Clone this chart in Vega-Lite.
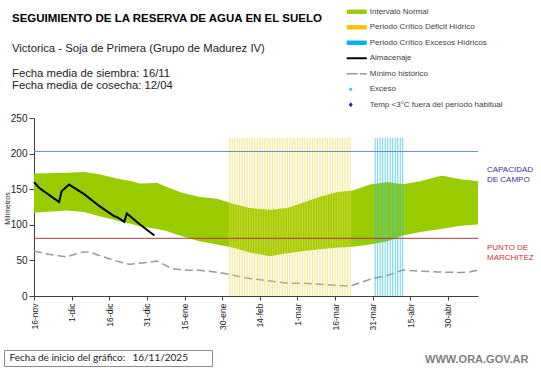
{
  "$schema": "https://vega.github.io/schema/vega-lite/v6.json",
  "width": 444,
  "height": 178,
  "autosize": {"type": "none"},
  "padding": {"left": 34, "top": 118, "right": 63, "bottom": 72},
  "background": "white",
  "config": {"view": {"stroke": null}, "font": "Liberation Sans"},
  "title": {
    "text": "SEGUIMIENTO DE LA RESERVA DE AGUA  EN EL SUELO",
    "subtitle": ["Victorica - Soja de Primera (Grupo de Madurez IV)", "\u200b", "Fecha media de siembra: 16/11", "Fecha media de cosecha: 12/04"],
    "anchor": "start",
    "frame": "group",
    "font": "Liberation Sans",
    "fontSize": 11.5,
    "fontWeight": "bold",
    "color": "#000000",
    "subtitleFont": "Liberation Sans",
    "subtitleFontSize": 11.3,
    "subtitleColor": "#222222",
    "subtitlePadding": 18,
    "subtitleLineHeight": 12.6,
    "dx": -22,
    "offset": -84
  },
  "datasets": {
    "banda": [
      {"fecha": "2025-11-16", "min": 117, "max": 172},
      {"fecha": "2025-11-29", "min": 120, "max": 173},
      {"fecha": "2025-12-06", "min": 118, "max": 174},
      {"fecha": "2025-12-12", "min": 112, "max": 171},
      {"fecha": "2025-12-19", "min": 106, "max": 165},
      {"fecha": "2025-12-25", "min": 101, "max": 161},
      {"fecha": "2025-12-28", "min": 98, "max": 158},
      {"fecha": "2026-01-01", "min": 96, "max": 158.5},
      {"fecha": "2026-01-04", "min": 94, "max": 159},
      {"fecha": "2026-01-08", "min": 91, "max": 153},
      {"fecha": "2026-01-14", "min": 84, "max": 145},
      {"fecha": "2026-01-21", "min": 77, "max": 139},
      {"fecha": "2026-01-28", "min": 72.5, "max": 136.5},
      {"fecha": "2026-02-03", "min": 68, "max": 130},
      {"fecha": "2026-02-10", "min": 61, "max": 123.5},
      {"fecha": "2026-02-18", "min": 56, "max": 121},
      {"fecha": "2026-02-25", "min": 60, "max": 123.5},
      {"fecha": "2026-03-03", "min": 63, "max": 131},
      {"fecha": "2026-03-10", "min": 65.5, "max": 139.5},
      {"fecha": "2026-03-17", "min": 68, "max": 146},
      {"fecha": "2026-03-23", "min": 69, "max": 148},
      {"fecha": "2026-03-30", "min": 72.5, "max": 156.5},
      {"fecha": "2026-04-06", "min": 77, "max": 160},
      {"fecha": "2026-04-12", "min": 85, "max": 157},
      {"fecha": "2026-04-19", "min": 90, "max": 161},
      {"fecha": "2026-04-26", "min": 93.5, "max": 168},
      {"fecha": "2026-04-28", "min": 94.5, "max": 169},
      {"fecha": "2026-05-02", "min": 97, "max": 166},
      {"fecha": "2026-05-05", "min": 98.5, "max": 164},
      {"fecha": "2026-05-12", "min": 100.5, "max": 161}
    ],
    "almacenaje": [
      {"fecha": "2025-11-16", "valor": 160},
      {"fecha": "2025-11-18", "valor": 152},
      {"fecha": "2025-11-26", "valor": 132},
      {"fecha": "2025-11-27", "valor": 147},
      {"fecha": "2025-11-30", "valor": 156.5},
      {"fecha": "2025-12-06", "valor": 143},
      {"fecha": "2025-12-12", "valor": 126.5},
      {"fecha": "2025-12-18", "valor": 112},
      {"fecha": "2025-12-19", "valor": 111},
      {"fecha": "2025-12-22", "valor": 104},
      {"fecha": "2025-12-23", "valor": 116},
      {"fecha": "2025-12-28", "valor": 101},
      {"fecha": "2026-01-03", "valor": 85}
    ],
    "minimo": [
      {"fecha": "2025-11-16", "valor": 63},
      {"fecha": "2025-11-22", "valor": 58.5},
      {"fecha": "2025-11-29", "valor": 55},
      {"fecha": "2025-12-05", "valor": 61.5},
      {"fecha": "2025-12-08", "valor": 62},
      {"fecha": "2025-12-12", "valor": 57},
      {"fecha": "2025-12-19", "valor": 49},
      {"fecha": "2025-12-24", "valor": 44.5},
      {"fecha": "2025-12-31", "valor": 47},
      {"fecha": "2026-01-04", "valor": 49},
      {"fecha": "2026-01-10", "valor": 38.5},
      {"fecha": "2026-01-16", "valor": 36},
      {"fecha": "2026-01-21", "valor": 36},
      {"fecha": "2026-01-29", "valor": 33},
      {"fecha": "2026-02-03", "valor": 29.5},
      {"fecha": "2026-02-10", "valor": 24.5},
      {"fecha": "2026-02-18", "valor": 21},
      {"fecha": "2026-02-25", "valor": 18},
      {"fecha": "2026-03-03", "valor": 18},
      {"fecha": "2026-03-10", "valor": 16.5},
      {"fecha": "2026-03-17", "valor": 15},
      {"fecha": "2026-03-22", "valor": 14},
      {"fecha": "2026-03-30", "valor": 23.5},
      {"fecha": "2026-04-06", "valor": 29},
      {"fecha": "2026-04-12", "valor": 36.5},
      {"fecha": "2026-04-19", "valor": 35},
      {"fecha": "2026-04-26", "valor": 33.7},
      {"fecha": "2026-05-05", "valor": 33},
      {"fecha": "2026-05-09", "valor": 34},
      {"fecha": "2026-05-12", "valor": 36.5}
    ],
    "deficit": [
      {"fecha": "2026-02-02"}, {"fecha": "2026-02-03"}, {"fecha": "2026-02-04"}, {"fecha": "2026-02-05"}, {"fecha": "2026-02-06"},
      {"fecha": "2026-02-07"}, {"fecha": "2026-02-08"}, {"fecha": "2026-02-09"}, {"fecha": "2026-02-10"}, {"fecha": "2026-02-11"},
      {"fecha": "2026-02-12"}, {"fecha": "2026-02-13"}, {"fecha": "2026-02-14"}, {"fecha": "2026-02-15"}, {"fecha": "2026-02-16"},
      {"fecha": "2026-02-17"}, {"fecha": "2026-02-18"}, {"fecha": "2026-02-19"}, {"fecha": "2026-02-20"}, {"fecha": "2026-02-21"},
      {"fecha": "2026-02-22"}, {"fecha": "2026-02-23"}, {"fecha": "2026-02-24"}, {"fecha": "2026-02-25"}, {"fecha": "2026-02-26"},
      {"fecha": "2026-02-27"}, {"fecha": "2026-02-28"}, {"fecha": "2026-03-01"}, {"fecha": "2026-03-02"}, {"fecha": "2026-03-03"},
      {"fecha": "2026-03-04"}, {"fecha": "2026-03-05"}, {"fecha": "2026-03-06"}, {"fecha": "2026-03-07"}, {"fecha": "2026-03-08"},
      {"fecha": "2026-03-09"}, {"fecha": "2026-03-10"}, {"fecha": "2026-03-11"}, {"fecha": "2026-03-12"}, {"fecha": "2026-03-13"},
      {"fecha": "2026-03-14"}, {"fecha": "2026-03-15"}, {"fecha": "2026-03-16"}, {"fecha": "2026-03-17"}, {"fecha": "2026-03-18"},
      {"fecha": "2026-03-19"}, {"fecha": "2026-03-20"}, {"fecha": "2026-03-21"}, {"fecha": "2026-03-22"}
    ],
    "excesos": [
      {"fecha": "2026-04-01"}, {"fecha": "2026-04-02"}, {"fecha": "2026-04-03"}, {"fecha": "2026-04-04"},
      {"fecha": "2026-04-05"}, {"fecha": "2026-04-06"}, {"fecha": "2026-04-07"}, {"fecha": "2026-04-08"},
      {"fecha": "2026-04-09"}, {"fecha": "2026-04-10"}, {"fecha": "2026-04-11"}, {"fecha": "2026-04-12"}
    ],
    "referencias": [
      {"tipo": "Capacidad de campo", "valor": 203, "etiqueta": ["CAPACIDAD", "DE  CAMPO"]},
      {"tipo": "Punto de marchitez", "valor": 81, "etiqueta": ["PUNTO  DE", "MARCHITEZ"]}
    ]
  },
  "layer": [
    {
      "data": {"name": "banda"},
      "mark": {"type": "area", "opacity": 1},
      "encoding": {
        "x": {
          "field": "fecha", "type": "temporal",
          "scale": {"type": "utc", "domain": [{"year": 2025, "month": 11, "date": 16, "utc": true}, {"year": 2026, "month": 5, "date": 12, "utc": true}]},
          "axis": {
            "values": [
              {"year": 2025, "month": 11, "date": 16, "utc": true},
              {"year": 2025, "month": 12, "date": 1, "utc": true},
              {"year": 2025, "month": 12, "date": 16, "utc": true},
              {"year": 2025, "month": 12, "date": 31, "utc": true},
              {"year": 2026, "month": 1, "date": 15, "utc": true},
              {"year": 2026, "month": 1, "date": 30, "utc": true},
              {"year": 2026, "month": 2, "date": 14, "utc": true},
              {"year": 2026, "month": 3, "date": 1, "utc": true},
              {"year": 2026, "month": 3, "date": 16, "utc": true},
              {"year": 2026, "month": 3, "date": 31, "utc": true},
              {"year": 2026, "month": 4, "date": 15, "utc": true},
              {"year": 2026, "month": 4, "date": 30, "utc": true}
            ],
            "tickCount": 12,
            "labelExpr": "utcdate(datum.value) + '-' + ['ene','feb','mar','abr','may','jun','jul','ago','sep','oct','nov','dic'][utcmonth(datum.value)]",
            "labelAngle": -90,
            "labelFontSize": 8.5,
            "labelColor": "#222222",
            "labelPadding": 3,
            "labelOverlap": false,
            "labelFlush": false,
            "tickSize": 4,
            "tickColor": "#404040",
            "domainColor": "#404040",
            "grid": false,
            "title": "WWW.ORA.GOV.AR",
            "titleX": 494,
            "titleY": 66,
            "titleAlign": "right",
            "titleAngle": 0,
            "titleBaseline": "alphabetic",
            "titleFontSize": 11,
            "titleFontWeight": "bold",
            "titleColor": "#7f7f7f"
          }
        },
        "y": {
          "field": "min", "type": "quantitative",
          "scale": {"domain": [0, 250], "nice": false},
          "axis": {
            "values": [0, 50, 100, 150, 200, 250],
            "tickCount": 6,
            "labelFontSize": 10,
            "labelColor": "#222222",
            "labelPadding": 2,
            "labelOverlap": false,
            "labelFlush": false,
            "tickSize": 5,
            "tickColor": "#404040",
            "domainColor": "#404040",
            "grid": false,
            "title": "Milímetros",
            "titleFontSize": 7,
            "titleFontWeight": "normal",
            "titleColor": "#222222",
            "titleX": -24.5,
            "titleY": 90,
            "titleAlign": "center",
            "titleBaseline": "alphabetic"
          }
        },
        "y2": {"field": "max"},
        "color": {
          "datum": "Intervalo Normal",
          "scale": {
            "domain": ["Intervalo Normal", "Periodo Crítico Déficit Hídrico", "Periodo Crítico Excesos Hídricos", "Almacenaje", "Mínimo histórico", "Exceso", "Temp <3°C fuera del período habitual"],
            "range": ["#99cc00", "#ffc000", "#00b0f0", "#000000", "#999999", "#33ccff", "#1f2fa8"]
          },
          "legend": {
            "orient": "none",
            "legendX": 318.75,
            "legendY": -110.25,
            "title": null,
            "padding": 0,
            "symbolSize": 64,
            "symbolStrokeWidth": 0,
            "symbolType": {"expr": "datum.value == 'Almacenaje' ? 'M-2.5,-0.25H2.5V0.25H-2.5Z' : datum.value == 'Mínimo histórico' ? 'M-2.5,-0.2H0.25V0.2H-2.5ZM0.75,-0.2H2.5V0.2H0.75Z' : datum.value == 'Exceso' ? 'M-1.9,0A0.4,0.4,0,1,0,-1.1,0A0.4,0.4,0,1,0,-1.9,0Z' : datum.value == 'Temp <3°C fuera del período habitual' ? 'M-1.5,-0.6L-1.0,0L-1.5,0.6L-2.0,0Z' : 'M-2.5,-0.55H2.5V0.55H-2.5Z'"},
            "symbolOpacity": 1,
            "rowPadding": 7.5,
            "labelOffset": 9,
            "labelFontSize": 8,
            "labelFont": "Liberation Sans",
            "labelColor": "#404040",
            "labelLimit": 300
          }
        }
      }
    },
    {
      "data": {"name": "minimo"},
      "mark": {"type": "line", "strokeWidth": 1.5},
      "encoding": {
        "x": {"field": "fecha", "type": "temporal"},
        "y": {"field": "valor", "type": "quantitative"},
        "color": {"datum": "Mínimo histórico"},
        "strokeDash": {
          "datum": "16/11/2025",
          "scale": {"domain": ["16/11/2025"], "range": [[8, 4]]},
          "legend": {
            "orient": "none",
            "legendX": -30,
            "legendY": 232,
            "title": "\u200b\u00a0Fecha de inicio del gráfico:",
            "titleOrient": "left",
            "titleFont": "Lato",
            "titleFontSize": 10,
            "titleFontWeight": "normal",
            "titleColor": "#222222",
            "titlePadding": 0,
            "titleBaseline": "middle",
            "labelFont": "Lato",
            "labelFontSize": 10,
            "labelColor": "#222222",
            "labelExpr": "datum.label + '\u00a0\u00a0\u00a0\u00a0\u00a0\u00a0\u00a0\u00a0\u200b'",
            "symbolSize": 0,
            "symbolStrokeWidth": 0,
            "symbolOpacity": 0,
            "labelOffset": -3.5,
            "strokeColor": "#9a8585",
            "fillColor": "#ffffff",
            "padding": 3
          }
        }
      }
    },
    {
      "data": {"name": "deficit"},
      "mark": {"type": "rule", "strokeWidth": 1.2, "opacity": 0.6, "color": "#f0d850"},
      "encoding": {
        "x": {"field": "fecha", "type": "temporal"},
        "y": {"datum": 0},
        "y2": {"datum": 222}
      }
    },
    {
      "data": {"name": "excesos"},
      "mark": {"type": "rule", "strokeWidth": 1, "opacity": 0.7, "color": "#29c0e6"},
      "encoding": {
        "x": {"field": "fecha", "type": "temporal"},
        "y": {"datum": 0},
        "y2": {"datum": 222}
      }
    },
    {
      "data": {"name": "referencias"},
      "mark": {"type": "rule", "strokeWidth": 1},
      "encoding": {
        "y": {"field": "valor", "type": "quantitative"},
        "stroke": {"field": "tipo", "type": "nominal", "scale": {"domain": ["Capacidad de campo", "Punto de marchitez"], "range": ["#6f8cc4", "#b03a3a"]}, "legend": null}
      }
    },
    {
      "data": {"name": "referencias"},
      "transform": [{"filter": "datum.tipo == 'Capacidad de campo'"}],
      "mark": {"type": "text", "align": "left", "baseline": "top", "dx": 9, "dy": 15, "fontSize": 8, "lineHeight": 9.5, "color": "#333399"},
      "encoding": {
        "x": {"datum": {"year": 2026, "month": 5, "date": 12, "utc": true}, "type": "temporal"},
        "y": {"field": "valor", "type": "quantitative"},
        "text": {"field": "etiqueta"}
      }
    },
    {
      "data": {"name": "referencias"},
      "transform": [{"filter": "datum.tipo == 'Punto de marchitez'"}],
      "mark": {"type": "text", "align": "left", "baseline": "top", "dx": 9, "dy": 6, "fontSize": 8, "lineHeight": 9.5, "color": "#cc3333"},
      "encoding": {
        "x": {"datum": {"year": 2026, "month": 5, "date": 12, "utc": true}, "type": "temporal"},
        "y": {"field": "valor", "type": "quantitative"},
        "text": {"field": "etiqueta"}
      }
    },
    {
      "data": {"name": "almacenaje"},
      "mark": {"type": "line", "strokeWidth": 2},
      "encoding": {
        "x": {"field": "fecha", "type": "temporal"},
        "y": {"field": "valor", "type": "quantitative"},
        "color": {"datum": "Almacenaje"}
      }
    }
  ]
}
